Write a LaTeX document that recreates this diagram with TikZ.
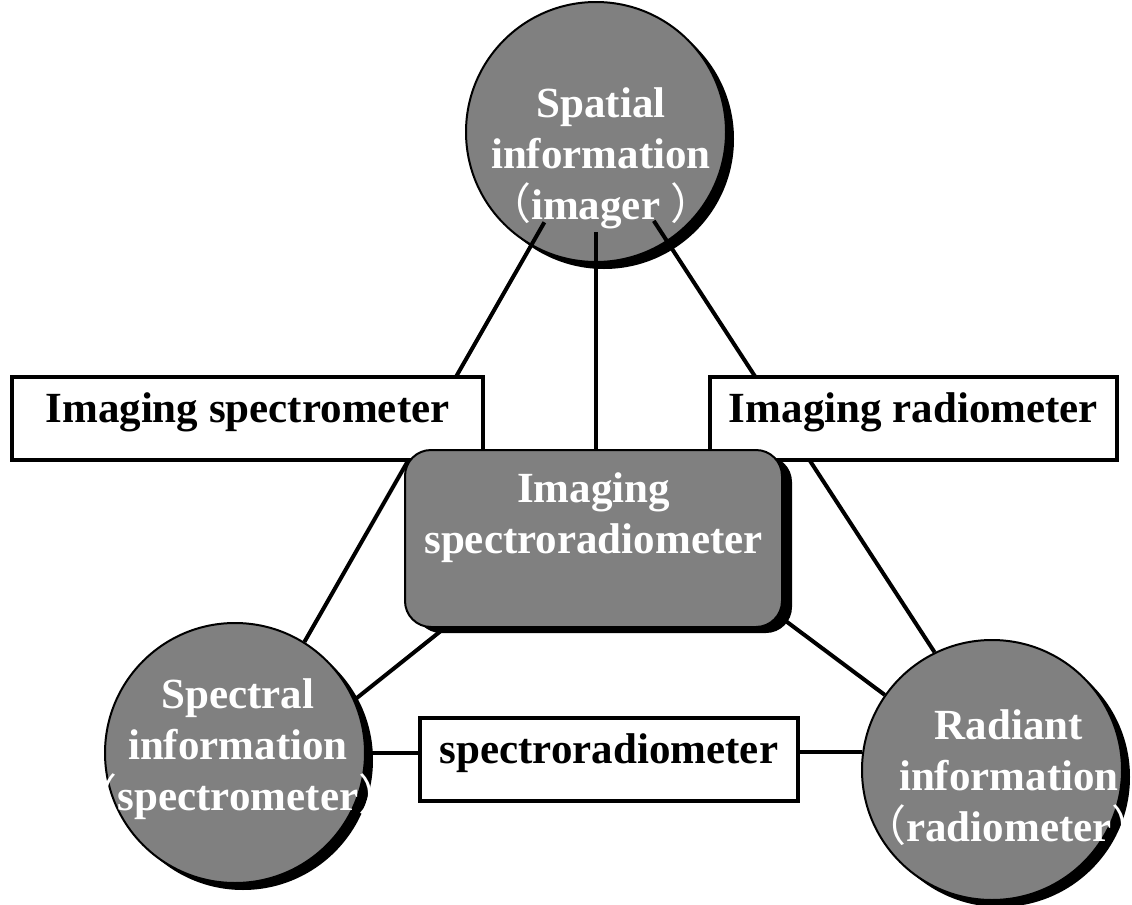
\documentclass[tikz,border=0pt]{standalone}
\usepackage{fontspec}
\setmainfont{Liberation Serif}
\newfontfamily\cjk{Noto Sans CJK SC}
\usetikzlibrary{positioning,shadows}
\pgfdeclarelayer{bottom}
\pgfdeclarelayer{wires}
\pgfsetlayers{bottom,wires,main}

\begin{document}
\begin{tikzpicture}[x=0.5pt,y=-0.5pt,
    every node/.style={font=\fontsize{21.5}{25.5}\selectfont\bfseries},
    infoball/.style={circle,draw=black,line width=1pt,fill=gray,minimum size=130pt,inner sep=0pt,
      drop shadow={shadow xshift=4pt,shadow yshift=-3.5pt,fill=black,opacity=1}},
    balltext/.style={text=white,align=center},
    corebox/.style={draw=black,line width=1pt,fill=gray,rounded corners=13pt,text=white,align=center,
      inner sep=0pt,minimum width=188.5pt,text height=51.5pt,text depth=37pt,
      drop shadow={shadow xshift=5pt,shadow yshift=-3pt,fill=black,opacity=1}},
    devbox/.style={draw=black,line width=1.8pt,fill=white,inner sep=0pt,text height=22.5pt,text depth=19pt},
    link/.style={line width=2pt}]
        \useasboundingbox (0,0) rectangle (1132,905);
        % Top circle, under the wires
        \begin{pgfonlayer}{bottom}
        \fill[white] (0,0) rectangle (1132,905);
        \node[infoball,label={[balltext,xshift=2.5pt,yshift=-13pt]center:{Spatial\\information\\{\cjk\mdseries （}imager {\cjk\mdseries ）}}}] (spatial) at (596,132) {};
        \end{pgfonlayer}
        % Boxes
        \node[devbox,minimum width=235.5pt] (imgspec) at (247.5,418.5) {Imaging spectrometer};
        \node[devbox,minimum width=203.5pt] (imgrad) at (913.5,418.5) {Imaging radiometer};
        \node[corebox] (core) at (593.5,538.5) {Imaging\\spectroradiometer};
        \node[devbox,minimum width=189pt] (spectro) at (609,759.5) {spectroradiometer};
        % Bottom circles
        \node[infoball,label={[balltext,xshift=1.5pt,yshift=2pt]center:{Spectral\\information\\{\cjk\mdseries （}spectrometer{\cjk\mdseries ）}}}] (spectral) at (235,753) {};
        \node[infoball,label={[balltext,xshift=8.5pt,yshift=-4pt]center:{Radiant\\information\\{\cjk\mdseries （}radiometer{\cjk\mdseries ）}}}] (radiant) at (992,770) {};
        % Wires
        \begin{pgfonlayer}{wires}
        \draw[link,shorten <=52pt] (spatial.center) -- (spectral.58);
        \draw[link,shorten <=50pt] (spatial.center) -- (spatial.center |- core.north);
        \draw[link,shorten <=53pt] (spatial.center) -- (radiant.116);
        \draw[link] (core.-149) -- (spectral.24);
        \draw[link] (core.-23) -- (radiant.145);
        \draw[link] (spectral.east) -- (spectro.west |- spectral.east);
        \draw[link] (spectro.east |- radiant.172) -- (radiant.172);
        \end{pgfonlayer}
    \end{tikzpicture}
\end{document}
